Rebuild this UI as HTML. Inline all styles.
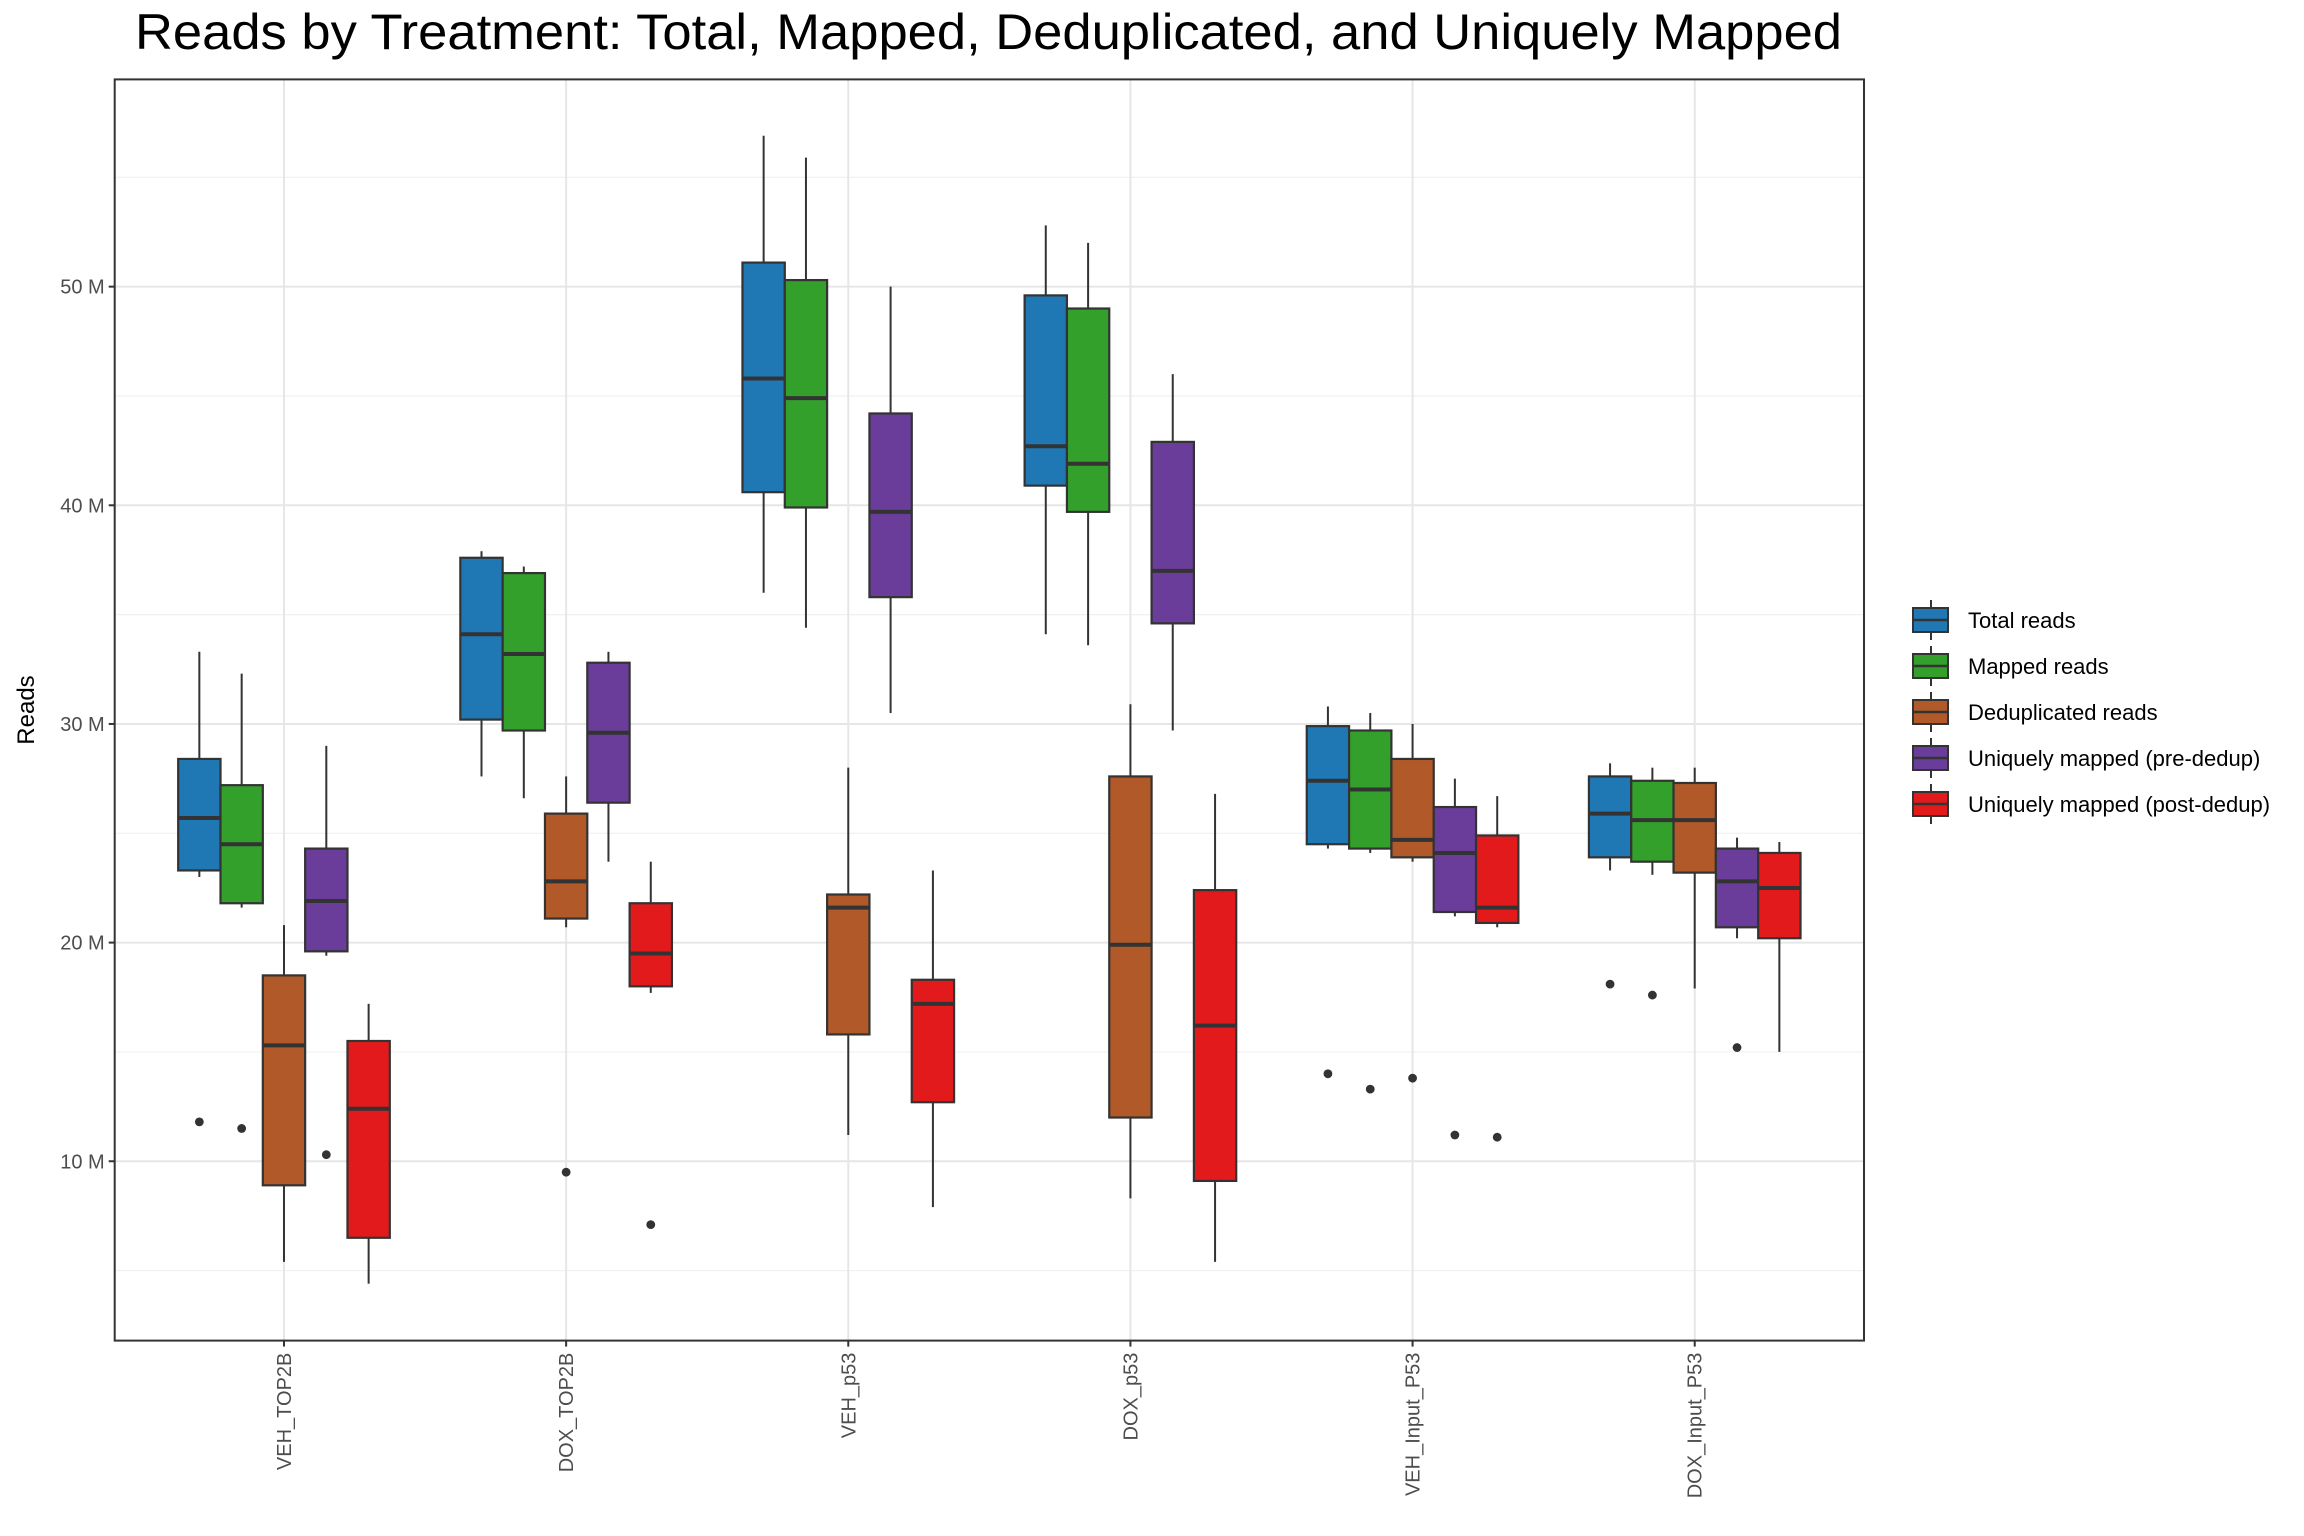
<!DOCTYPE html>
<html><head><meta charset="utf-8"><style>
html,body{margin:0;padding:0;background:#fff;}
svg{display:block;font-family:"Liberation Sans",Arial,sans-serif;}
</style></head><body>
<svg id="chart" width="2304" height="1536" viewBox="0 0 2304 1536" xmlns="http://www.w3.org/2000/svg">
<rect width="2304" height="1536" fill="#fff"/>
<text x="135" y="49" font-size="50" fill="#000" textLength="1707" lengthAdjust="spacingAndGlyphs">Reads by Treatment: Total, Mapped, Deduplicated, and Uniquely Mapped</text>
<text transform="translate(34,710) rotate(-90)" text-anchor="middle" font-size="24" fill="#000">Reads</text>
<g id="grid"></g><g id="marks"></g><g id="axes"></g><g id="legend"></g>
</svg>
<script>
const categories = ["VEH_TOP2B","DOX_TOP2B","VEH_p53","DOX_p53","VEH_Input_P53","DOX_Input_P53"];
const seriesNames = ["Total reads","Mapped reads","Deduplicated reads","Uniquely mapped (pre-dedup)","Uniquely mapped (post-dedup)"];
const seriesColors = ["#1f78b4","#33a02c","#b15928","#6a3d9a","#e31a1c"];
const yTicks = [10,20,30,40,50];
const yTickLabels = ["10 M","20 M","30 M","40 M","50 M"];
// [lowWhisker, Q1, median, Q3, highWhisker] in millions
const totalReads = [[23.0,23.3,25.7,28.4,33.3],[27.6,30.2,34.1,37.6,37.9],[36.0,40.6,45.8,51.1,56.9],[34.1,40.9,42.7,49.6,52.8],[24.3,24.5,27.4,29.9,30.8],[23.3,23.9,25.9,27.6,28.2]];
const mappedReads = [[21.6,21.8,24.5,27.2,32.3],[26.6,29.7,33.2,36.9,37.2],[34.4,39.9,44.9,50.3,55.9],[33.6,39.7,41.9,49.0,52.0],[24.1,24.3,27.0,29.7,30.5],[23.1,23.7,25.6,27.4,28.0]];
const dedupReads = [[5.4,8.9,15.3,18.5,20.8],[20.7,21.1,22.8,25.9,27.6],[11.2,15.8,21.6,22.2,28.0],[8.3,12.0,19.9,27.6,30.9],[23.7,23.9,24.7,28.4,30.0],[17.9,23.2,25.6,27.3,28.0]];
const uniquePre = [[19.4,19.6,21.9,24.3,29.0],[23.7,26.4,29.6,32.8,33.3],[30.5,35.8,39.7,44.2,50.0],[29.7,34.6,37.0,42.9,46.0],[21.2,21.4,24.1,26.2,27.5],[20.2,20.7,22.8,24.3,24.8]];
const uniquePost = [[4.4,6.5,12.4,15.5,17.2],[17.7,18.0,19.5,21.8,23.7],[7.9,12.7,17.2,18.3,23.3],[5.4,9.1,16.2,22.4,26.8],[20.7,20.9,21.6,24.9,26.7],[15.0,20.2,22.5,24.1,24.6]];
const outlierCat = [0,0,0,1,1,4,4,4,4,4,5,5,5];
const outlierSer = [0,1,3,2,4,0,1,2,3,4,0,1,3];
const outlierVal = [11.8,11.5,10.3,9.5,7.1,14.0,13.3,13.8,11.2,11.1,18.1,17.6,15.2];

const NS="http://www.w3.org/2000/svg";
const L=114.7,R=1864,T=79.4,B=1340.6;
const y=v=>1379.9-v*21.865;
const unit=(R-L)/6.2;
const xc=i=>L+unit*(0.6+i);
const bw=unit*0.75/5;
const xs=(i,s)=>xc(i)+(s-2)*bw;
function mk(tag,attrs,parent){const e=document.createElementNS(NS,tag);for(const k in attrs)e.setAttribute(k,attrs[k]);parent.appendChild(e);return e;}
const grid=document.getElementById('grid'),marks=document.getElementById('marks'),axes=document.getElementById('axes'),legend=document.getElementById('legend');
for(let v=5;v<=55;v+=10){const g=mk('line',{x1:L,x2:R,y1:y(v),y2:y(v),stroke:'#f0f0f0','stroke-width':1.2},grid);

}
yTicks.forEach((v,k)=>{const g=mk('line',{x1:L,x2:R,y1:y(v),y2:y(v),stroke:'#e6e6e6','stroke-width':2},grid);


const t=mk('line',{x1:L-6,x2:L,y1:y(v),y2:y(v),stroke:'#333','stroke-width':2},axes);


const lb=mk('text',{x:L-10,y:y(v)+7,'text-anchor':'end','font-size':20,fill:'#4d4d4d'},axes);lb.textContent=yTickLabels[k];

});
categories.forEach((c,i)=>{const g=mk('line',{x1:xc(i),x2:xc(i),y1:T,y2:B,stroke:'#e6e6e6','stroke-width':2},grid);


const t=mk('line',{x1:xc(i),x2:xc(i),y1:B,y2:B+6,stroke:'#333','stroke-width':2},axes);


const lb=mk('text',{transform:`translate(${xc(i)+7},${B+12}) rotate(-90)`,'text-anchor':'end','font-size':20,fill:'#4d4d4d'},axes);lb.textContent=c;

});
const border=mk('rect',{x:L,y:T,width:R-L,height:B-T,fill:'none',stroke:'#333','stroke-width':2},axes);


const allSeries=[totalReads,mappedReads,dedupReads,uniquePre,uniquePost];
allSeries.forEach((ser,s)=>{ser.forEach((d,i)=>{
 const g=mk('g',{},marks);
 
 
 const cx=xs(i,s),x0=cx-bw/2;
 mk('line',{x1:cx,x2:cx,y1:y(d[4]),y2:y(d[3]),stroke:'#333','stroke-width':2},g);
 mk('line',{x1:cx,x2:cx,y1:y(d[1]),y2:y(d[0]),stroke:'#333','stroke-width':2},g);
 mk('rect',{x:x0,y:y(d[3]),width:bw,height:y(d[1])-y(d[3]),fill:seriesColors[s],stroke:'#333','stroke-width':2.2},g);
 mk('line',{x1:x0,x2:x0+bw,y1:y(d[2]),y2:y(d[2]),stroke:'#333','stroke-width':4},g);
});});
outlierVal.forEach((v,k)=>{const c=mk('circle',{cx:xs(outlierCat[k],outlierSer[k]),cy:y(v),r:4.4,fill:'#333'},marks);

});
seriesNames.forEach((n,s)=>{const cy=620+s*46;
 const g=mk('g',{},legend);
 
 
 mk('line',{x1:1931,x2:1931,y1:cy-20,y2:cy+20,stroke:'#333','stroke-width':2},g);
 mk('rect',{x:1913,y:cy-12,width:35,height:24,fill:seriesColors[s],stroke:'#333','stroke-width':2},g);
 mk('line',{x1:1913,x2:1948,y1:cy,y2:cy,stroke:'#333','stroke-width':2.5},g);
 const t=mk('text',{x:1968,y:cy+8,'font-size':22,fill:'#000'},g);t.textContent=n;
});
</script>
</body></html>
